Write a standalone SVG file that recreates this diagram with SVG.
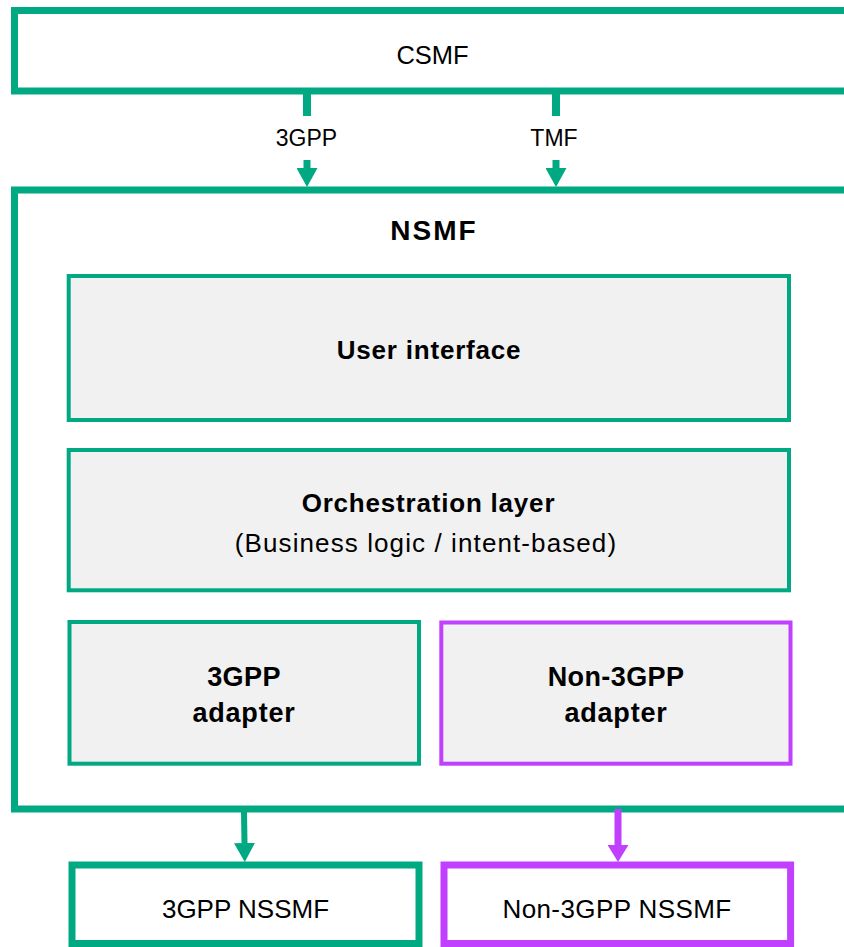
<svg xmlns="http://www.w3.org/2000/svg" width="844" height="947" viewBox="0 0 844 947">
  <style>
    .frame { fill: #ffffff; stroke: #01a982; stroke-width: 7; }
    .inner { fill: #f1f1f1; stroke: #01a982; stroke-width: 4; }
    .innerP { fill: #f1f1f1; stroke: #c140ff; stroke-width: 4; }
    .outG { fill: #ffffff; stroke: #01a982; stroke-width: 7; }
    .outP { fill: #ffffff; stroke: #c140ff; stroke-width: 7; }
    .lnG { stroke: #01a982; fill: none; }
    .lnP { stroke: #c140ff; fill: none; }
    .t { font-family: "Liberation Sans", Arial, sans-serif; fill: #000000; text-anchor: middle; }
    .b { font-family: "Liberation Sans", Arial, sans-serif; font-weight: bold; fill: #000000; text-anchor: middle; }
  </style>
  <defs>
    <marker id="arrG" markerUnits="userSpaceOnUse" viewBox="0 0 19 21" markerWidth="19" markerHeight="21" refX="0" refY="10.5" orient="auto">
      <path d="M0,0 L19,10.5 L0,21 Z" fill="#01a982"/>
    </marker>
    <marker id="arrP" markerUnits="userSpaceOnUse" viewBox="0 0 17 21" markerWidth="17" markerHeight="21" refX="0" refY="10.5" orient="auto">
      <path d="M0,0 L17,10.5 L0,21 Z" fill="#c140ff"/>
    </marker>
  </defs>

  <g id="csmf">
    <rect class="frame" x="14.5" y="10.5" width="840" height="80.5"/>
    <text class="t" x="432.5" y="63.5" font-size="25.5">CSMF</text>
  </g>

  <g id="nsmf">
    <rect class="frame" x="14.5" y="190" width="840" height="619"/>
    <text class="b" x="434" y="240" font-size="28" letter-spacing="2">NSMF</text>
  </g>

  <g id="user-interface">
    <rect class="inner" x="68.7" y="276" width="720.3" height="144"/>
    <text class="b" x="429" y="359" font-size="26" letter-spacing="0.8">User interface</text>
  </g>

  <g id="orchestration-layer">
    <rect class="inner" x="68.7" y="450" width="720.3" height="140.3"/>
    <text class="b" x="428.5" y="512" font-size="26" letter-spacing="0.8">Orchestration layer</text>
    <text class="t" x="426" y="552" font-size="26" letter-spacing="1.1">(Business logic / intent-based)</text>
  </g>

  <g id="adapter-3gpp">
    <rect class="inner" x="69.5" y="622" width="349.5" height="141.7"/>
    <text class="b" x="244" y="686" font-size="27" letter-spacing="0.4">3GPP</text>
    <text class="b" x="244" y="722" font-size="27" letter-spacing="0.8">adapter</text>
  </g>

  <g id="adapter-non-3gpp">
    <rect class="innerP" x="441.3" y="622.5" width="349.2" height="141.2"/>
    <text class="b" x="616" y="686" font-size="27" letter-spacing="0.4">Non-3GPP</text>
    <text class="b" x="616" y="722" font-size="27" letter-spacing="0.8">adapter</text>
  </g>

  <g id="nssmf-3gpp">
    <rect class="outG" x="72" y="865" width="347" height="78.5"/>
    <text class="t" x="245.5" y="918" font-size="26">3GPP NSSMF</text>
  </g>

  <g id="nssmf-non-3gpp">
    <rect class="outP" x="444" y="865" width="346.6" height="78.5"/>
    <text class="t" x="617" y="918" font-size="26" letter-spacing="0.4">Non-3GPP NSSMF</text>
  </g>

  <g id="connectors">
    <g id="conn-3gpp">
      <line class="lnG" x1="307" y1="94" x2="307" y2="116" stroke-width="8"/>
      <line class="lnG" x1="307" y1="160" x2="307" y2="168" stroke-width="7" marker-end="url(#arrG)"/>
      <text class="t" x="306.5" y="146" font-size="23">3GPP</text>
    </g>
    <g id="conn-tmf">
      <line class="lnG" x1="556" y1="94" x2="556" y2="116" stroke-width="8"/>
      <line class="lnG" x1="556" y1="160" x2="556" y2="168" stroke-width="7" marker-end="url(#arrG)"/>
      <text class="t" x="554" y="146" font-size="23">TMF</text>
    </g>
    <line id="conn-nssmf-3gpp" class="lnG" x1="244" y1="812" x2="244.5" y2="843" stroke-width="6" marker-end="url(#arrG)"/>
    <line id="conn-nssmf-non-3gpp" class="lnP" x1="618" y1="809" x2="618" y2="845" stroke-width="7" marker-end="url(#arrP)"/>
  </g>
</svg>
